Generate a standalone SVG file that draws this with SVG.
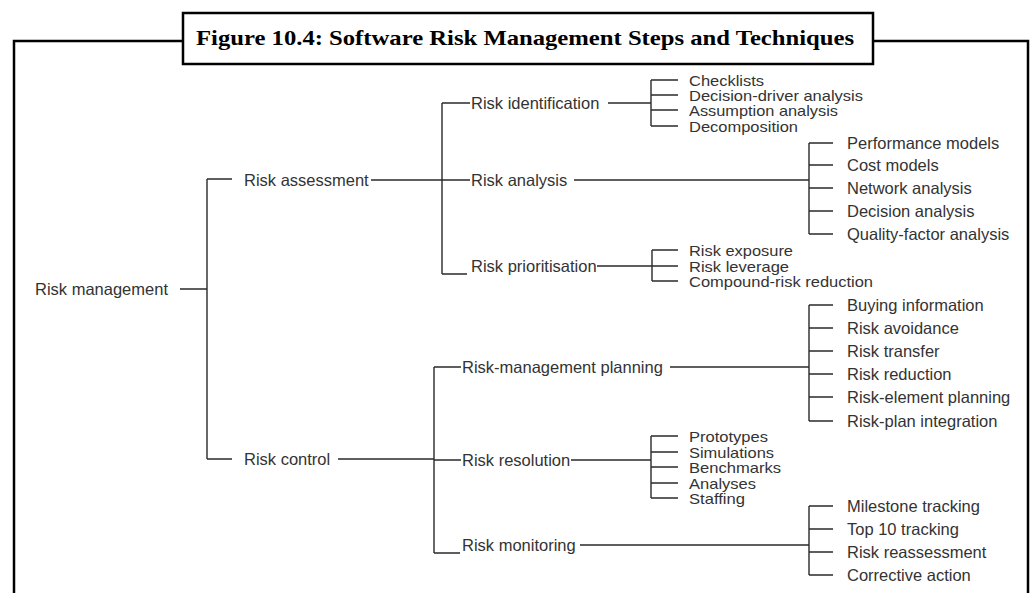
<svg xmlns="http://www.w3.org/2000/svg" width="1034" height="593" viewBox="0 0 1034 593">
<style>
.frame{fill:none;stroke:#000;stroke-width:2.5}
.title{font-family:"Liberation Serif",serif;font-weight:bold;font-size:22px;fill:#000}
.c{fill:none;stroke:#2a2a2a;stroke-width:1.4}
text.n{font-family:"Liberation Sans",Arial,sans-serif;font-size:16.5px;fill:#333}
text.d{font-family:"Liberation Sans",Arial,sans-serif;font-size:14.6px;fill:#333}
</style>
<rect width="1034" height="593" fill="#fff"/>
<g id="frame">
<polyline class="frame" points="14,593 14,41 183,41"/>
<polyline class="frame" points="873,41 1028,41 1028,593"/>
<rect class="frame" x="183" y="13" width="690" height="51" fill="#fff"/>
<text class="title" x="196" y="45" textLength="658" lengthAdjust="spacingAndGlyphs">Figure 10.4: Software Risk Management Steps and Techniques</text>
</g>
<g id="connectors">
<path class="c" d="M180,289H207M207,179V459M207,179H232M207,459H232"/>
<path class="c" d="M371,180H442M442,103V274M442,103H470M442,180H470M442,274H467"/>
<path class="c" d="M338,459H434M434,367V553M434,367H461M434,460H461M434,553H460"/>
<path class="c" d="M608,103H651M651,80V126M651,80H678M651,95H678M651,110H678M651,126H678"/>
<path class="c" d="M574,180H809M809,143V234M809,143H833M809,165H833M809,188H833M809,211H833M809,234H833"/>
<path class="c" d="M597,266H652M652,250V281M652,250H678M652,266H678M652,281H678"/>
<path class="c" d="M670,367H809M809,305V421M809,305H833M809,328H833M809,351H833M809,374H833M809,397H833M809,421H833"/>
<path class="c" d="M571,460H651M651,436V498M651,436H678M651,452H678M651,467H678M651,483H678M651,498H678"/>
<path class="c" d="M580,545H809M809,506V575M809,506H833M809,529H833M809,552H833M809,575H833"/>
</g>
<g id="n-risk-management"><text class="n" x="35" y="295">Risk management</text></g>
<g id="n-risk-assessment"><text class="n" x="244" y="186">Risk assessment</text></g>
<g id="n-risk-control"><text class="n" x="244" y="465">Risk control</text></g>
<g id="n-risk-identification"><text class="n" x="471" y="109">Risk identification</text></g>
<g id="n-risk-analysis"><text class="n" x="471" y="186">Risk analysis</text></g>
<g id="n-risk-prioritisation"><text class="n" x="471" y="272">Risk prioritisation</text></g>
<g id="n-risk-management-planning"><text class="n" x="462" y="373">Risk-management planning</text></g>
<g id="n-risk-resolution"><text class="n" x="462" y="466">Risk resolution</text></g>
<g id="n-risk-monitoring"><text class="n" x="462" y="551">Risk monitoring</text></g>
<g id="n-identification-techniques">
<text class="d" x="689" y="85.5" textLength="75" lengthAdjust="spacingAndGlyphs">Checklists</text>
<text class="d" x="689" y="100.5" textLength="174" lengthAdjust="spacingAndGlyphs">Decision-driver analysis</text>
<text class="d" x="689" y="115.5" textLength="149" lengthAdjust="spacingAndGlyphs">Assumption analysis</text>
<text class="d" x="689" y="131.5" textLength="109" lengthAdjust="spacingAndGlyphs">Decomposition</text>
</g>
<g id="n-analysis-techniques">
<text class="n" x="847" y="149">Performance models</text>
<text class="n" x="847" y="171">Cost models</text>
<text class="n" x="847" y="194">Network analysis</text>
<text class="n" x="847" y="217">Decision analysis</text>
<text class="n" x="847" y="240">Quality-factor analysis</text>
</g>
<g id="n-prioritisation-techniques">
<text class="d" x="689" y="255.5" textLength="104" lengthAdjust="spacingAndGlyphs">Risk exposure</text>
<text class="d" x="689" y="271.5" textLength="100" lengthAdjust="spacingAndGlyphs">Risk leverage</text>
<text class="d" x="689" y="286.5" textLength="184" lengthAdjust="spacingAndGlyphs">Compound-risk reduction</text>
</g>
<g id="n-planning-techniques">
<text class="n" x="847" y="311">Buying information</text>
<text class="n" x="847" y="334">Risk avoidance</text>
<text class="n" x="847" y="357">Risk transfer</text>
<text class="n" x="847" y="380">Risk reduction</text>
<text class="n" x="847" y="403">Risk-element planning</text>
<text class="n" x="847" y="427">Risk-plan integration</text>
</g>
<g id="n-resolution-techniques">
<text class="d" x="689" y="441.5" textLength="79" lengthAdjust="spacingAndGlyphs">Prototypes</text>
<text class="d" x="689" y="457.5" textLength="85" lengthAdjust="spacingAndGlyphs">Simulations</text>
<text class="d" x="689" y="472.5" textLength="92" lengthAdjust="spacingAndGlyphs">Benchmarks</text>
<text class="d" x="689" y="488.5" textLength="67" lengthAdjust="spacingAndGlyphs">Analyses</text>
<text class="d" x="689" y="503.5" textLength="56" lengthAdjust="spacingAndGlyphs">Staffing</text>
</g>
<g id="n-monitoring-techniques">
<text class="n" x="847" y="512">Milestone tracking</text>
<text class="n" x="847" y="535">Top 10 tracking</text>
<text class="n" x="847" y="558">Risk reassessment</text>
<text class="n" x="847" y="581">Corrective action</text>
</g>
</svg>
